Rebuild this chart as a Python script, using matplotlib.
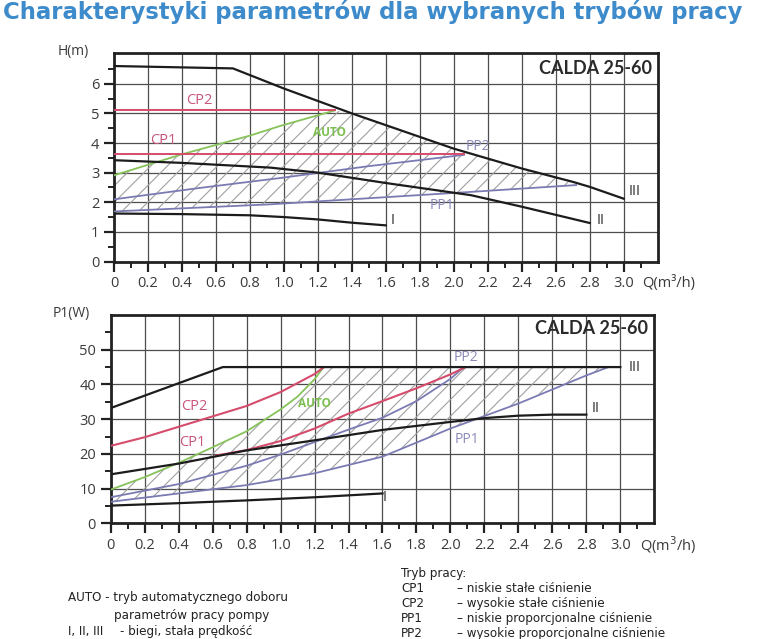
import matplotlib
matplotlib.use('Agg')
import matplotlib.pyplot as plt
from matplotlib.ticker import FixedLocator
from matplotlib.patches import Polygon

plt.rcParams['hatch.linewidth'] = 0.8
plt.rcParams['hatch.color'] = '#a0a0a0'

# ---------------- data ----------------
title = "Charakterystyki parametrów dla wybranych trybów pracy"
model = "CALDA 25-60"

x_ticks = [0, 0.2, 0.4, 0.6, 0.8, 1.0, 1.2, 1.4, 1.6, 1.8, 2.0, 2.2, 2.4, 2.6, 2.8, 3.0]
x_tick_labels = ['0', '0.2', '0.4', '0.6', '0.8', '1.0', '1.2', '1.4', '1.6', '1.8',
                 '2.0', '2.2', '2.4', '2.6', '2.8', '3.0']
x_minor = [0.1, 0.3, 0.5, 0.7, 0.9, 1.1, 1.3, 1.5, 1.7, 1.9, 2.1, 2.3, 2.5, 2.7, 2.9, 3.1]

h_ticks = [0, 1, 2, 3, 4, 5, 6]
h_minor = [0.5, 1.5, 2.5, 3.5, 4.5, 5.5, 6.5]
p_ticks = [0, 10, 20, 30, 40, 50]
p_minor = [5, 15, 25, 35, 45, 55]

# H(Q) curves
q_h3 = [0, 0.7, 1.0, 1.4, 2.0, 2.4, 2.7, 2.8, 3.0]
h_h3 = [6.6, 6.52, 5.84, 5.0, 3.81, 3.14, 2.69, 2.52, 2.12]
q_h2 = [0, 0.4, 0.92, 1.2, 1.6, 2.1, 2.4, 2.8]
h_h2 = [3.42, 3.33, 3.17, 3.0, 2.65, 2.24, 1.85, 1.3]
q_h1 = [0, 0.4, 0.8, 1.0, 1.2, 1.4, 1.6]
h_h1 = [1.62, 1.6, 1.56, 1.5, 1.42, 1.31, 1.22]
q_hpp1 = [0, 0.92, 2.1, 2.72]
h_hpp1 = [1.69, 1.93, 2.35, 2.58]
q_hpp2 = [0, 0.5, 0.98, 1.5, 2.06]
h_hpp2 = [2.1, 2.48, 2.82, 3.22, 3.6]
q_hcp1 = [0, 2.06]
h_hcp1 = [3.62, 3.62]
q_hcp2 = [0, 1.3]
h_hcp2 = [5.1, 5.1]
q_hauto = [0, 0.4, 0.8, 0.98, 1.3]
h_hauto = [2.91, 3.62, 4.25, 4.58, 5.1]

# P1(Q) curves
q_p3 = [0, 0.66, 3.0]
p_p3 = [33.2, 45.0, 45.0]
q_p2 = [0, 0.4, 0.8, 1.2, 1.6, 2.0, 2.2, 2.4, 2.6, 2.8]
p_p2 = [14.1, 17.2, 21.0, 23.9, 26.9, 29.2, 30.3, 31.0, 31.3, 31.3]
q_p1 = [0, 0.4, 0.8, 1.2, 1.6]
p_p1 = [5.1, 5.8, 6.6, 7.5, 8.6]
q_pcp2 = [0, 0.2, 0.4, 0.6, 0.8, 1.0, 1.2, 1.25]
p_pcp2 = [22.3, 24.8, 27.8, 30.8, 33.8, 37.8, 43.0, 44.8]
q_pcp1 = [0.62, 0.8, 1.0, 1.2, 1.4, 1.6, 1.8, 2.0, 2.08]
p_pcp1 = [19.5, 21.1, 23.7, 27.3, 31.6, 35.2, 38.9, 42.9, 44.8]
q_pauto = [0, 0.2, 0.4, 0.6, 0.8, 1.0, 1.1, 1.2, 1.25]
p_pauto = [9.7, 13.3, 17.4, 21.9, 26.5, 32.8, 36.5, 41.5, 44.8]
q_ppp2 = [0, 0.4, 0.8, 1.0, 1.2, 1.4, 1.6, 1.8, 2.0, 2.07]
p_ppp2 = [7.5, 11.3, 16.6, 19.8, 23.4, 27.0, 30.4, 35.2, 41.6, 44.6]
q_ppp1 = [0, 0.4, 0.8, 1.2, 1.6, 2.0, 2.4, 2.8, 2.93]
p_ppp1 = [6.2, 8.6, 11.0, 14.4, 19.2, 27.3, 34.5, 42.6, 45.0]

# ---------------- style ----------------
BLACK = '#1c1c1c'
RED = '#d64c6c'
GREEN = '#86c25a'
BLUE = '#7b7bb4'
CPTXT = '#c8557a'
PPTXT = '#8a8ab9'
AUTOTXT = '#7cbf50'
TICKTXT = '#3a3a3a'
TFONT = ['Open Sans', 'DejaVu Sans']

fig = plt.figure(figsize=(7.78, 6.39), dpi=100)
W, H = 778, 639


def fx(px):
    return px / W


def fy(py):
    return 1 - py / H


ax1 = fig.add_axes([fx(114), fy(261.5), fx(657.7 - 114), (261.5 - 52.7) / H])
ax2 = fig.add_axes([fx(110.7), fy(523.3), fx(654.3 - 110.7), (523.3 - 315) / H])


def style(ax, ymax, yt, ym):
    ax.set_xlim(0, 3.2)
    ax.set_ylim(0, ymax)
    ax.xaxis.set_major_locator(FixedLocator(x_ticks))
    ax.xaxis.set_minor_locator(FixedLocator(x_minor))
    ax.yaxis.set_major_locator(FixedLocator(yt))
    ax.yaxis.set_minor_locator(FixedLocator(ym))
    ax.set_xticklabels(x_tick_labels)
    ax.set_yticklabels([str(v) for v in yt])
    ax.grid(which='major', color='#4e4e4e', lw=0.9, zorder=0)
    ax.set_axisbelow(True)
    for s in ax.spines.values():
        s.set_linewidth(2.0)
        s.set_color('#222222')
    ax.tick_params(which='major', direction='out', length=7, width=1.6,
                   color='#222222', labelsize=10.5, labelcolor=TICKTXT, pad=3.5)
    ax.tick_params(which='minor', direction='out', length=4, width=1.4,
                   color='#222222')
    for lab in ax.get_xticklabels() + ax.get_yticklabels():
        lab.set_family(TFONT)


style(ax1, 7.05, h_ticks, h_minor)
style(ax2, 60, p_ticks, p_minor)

# ---------- top chart ----------
poly_q = list(q_hauto) + [q for q in q_h3 if 1.3 < q < 2.72] + list(q_hpp1[::-1])
poly_h = list(h_hauto) + [h for q, h in zip(q_h3, h_h3) if 1.3 < q < 2.72] + list(h_hpp1[::-1])
ax1.add_patch(Polygon(list(zip(poly_q, poly_h)), closed=True, facecolor='none',
                      edgecolor='#a0a0a0', lw=0, hatch='//', zorder=1))

ax1.plot(q_hpp1, h_hpp1, color=BLUE, lw=1.3, zorder=3)
ax1.plot(q_hpp2, h_hpp2, color=BLUE, lw=1.3, zorder=3)
ax1.plot(q_hauto, h_hauto, color=GREEN, lw=1.3, zorder=3)
ax1.plot(q_hcp1, h_hcp1, color=RED, lw=1.4, zorder=4)
ax1.plot(q_hcp2, h_hcp2, color=RED, lw=1.4, zorder=4)
ax1.plot(q_h1, h_h1, color=BLACK, lw=1.6, zorder=5)
ax1.plot(q_h2, h_h2, color=BLACK, lw=1.6, zorder=5)
ax1.plot(q_h3, h_h3, color=BLACK, lw=1.6, zorder=5)

ax1.text(0.5, 5.45, 'CP2', color=CPTXT, fontsize=10.5, ha='center', va='center', family=TFONT)
ax1.text(0.29, 4.07, 'CP1', color=CPTXT, fontsize=10.5, ha='center', va='center', family=TFONT)
ax1.text(1.27, 4.37, 'AUTO', color=AUTOTXT, fontsize=8.5, fontweight='bold', ha='center', va='center', family=TFONT)
ax1.text(2.14, 3.87, 'PP2', color=PPTXT, fontsize=10, ha='center', va='center', family=TFONT)
ax1.text(1.93, 1.88, 'PP1', color=PPTXT, fontsize=10, ha='center', va='center', family=TFONT)
ax1.text(1.63, 1.37, 'I', color='#333333', fontsize=10.5, ha='left', va='center', family=TFONT)
ax1.text(2.84, 1.39, 'II', color='#333333', fontsize=10.5, ha='left', va='center', family=TFONT)
ax1.text(3.03, 2.37, 'III', color='#333333', fontsize=10.5, ha='left', va='center', family=TFONT)
ax1.text(3.165, 6.53, model, color='#2a2a2a', fontsize=13, fontweight='bold', ha='right', va='center',
         family=['Lato', 'DejaVu Sans'])

# ---------- bottom chart ----------
poly_q2 = list(q_pauto) + list(q_ppp1[::-1])
poly_p2 = list(p_pauto) + list(p_ppp1[::-1])
ax2.add_patch(Polygon(list(zip(poly_q2, poly_p2)), closed=True, facecolor='none',
                      edgecolor='#a0a0a0', lw=0, hatch='//', zorder=1))

ax2.plot(q_ppp1, p_ppp1, color=BLUE, lw=1.3, zorder=3)
ax2.plot(q_ppp2, p_ppp2, color=BLUE, lw=1.3, zorder=3)
ax2.plot(q_pauto, p_pauto, color=GREEN, lw=1.3, zorder=3)
ax2.plot(q_pcp1, p_pcp1, color=RED, lw=1.5, zorder=4)
ax2.plot(q_pcp2, p_pcp2, color=RED, lw=1.5, zorder=4)
ax2.plot(q_p1, p_p1, color=BLACK, lw=1.6, zorder=5)
ax2.plot(q_p2, p_p2, color=BLACK, lw=1.6, zorder=5)
ax2.plot(q_p3, p_p3, color=BLACK, lw=1.6, zorder=5)

ax2.text(0.49, 33.5, 'CP2', color=CPTXT, fontsize=10.5, ha='center', va='center', family=TFONT)
ax2.text(0.48, 23.2, 'CP1', color=CPTXT, fontsize=10.5, ha='center', va='center', family=TFONT)
ax2.text(1.2, 34.5, 'AUTO', color=AUTOTXT, fontsize=8.5, fontweight='bold', ha='center', va='center', family=TFONT)
ax2.text(2.09, 47.7, 'PP2', color=PPTXT, fontsize=10, ha='center', va='center', family=TFONT)
ax2.text(2.1, 24.1, 'PP1', color=PPTXT, fontsize=10, ha='center', va='center', family=TFONT)
ax2.text(1.6, 7.3, 'I', color='#333333', fontsize=10.5, ha='left', va='center', family=TFONT)
ax2.text(2.83, 33.0, 'II', color='#333333', fontsize=10.5, ha='left', va='center', family=TFONT)
ax2.text(3.05, 45.0, 'III', color='#333333', fontsize=10.5, ha='left', va='center', family=TFONT)
ax2.text(3.165, 56.0, model, color='#2a2a2a', fontsize=13, fontweight='bold', ha='right', va='center',
         family=['Lato', 'DejaVu Sans'])

# ---------- figure texts ----------
fig.text(fx(3), fy(19.5), title, color='#3d8bcb', fontsize=16.4, fontweight='bold',
         ha='left', va='baseline', family=['DejaVu Sans'])

fig.text(fx(58), fy(52), 'H(m)', fontsize=10, color=TICKTXT, ha='left', va='center', family=TFONT)
fig.text(fx(53), fy(314), 'P1(W)', fontsize=10, color=TICKTXT, ha='left', va='center', family=TFONT)
fig.text(fx(642), fy(283), 'Q(m³/h)', fontsize=10.5, color=TICKTXT, ha='left', va='center', family=TFONT)
fig.text(fx(640), fy(545), 'Q(m$^3$/h)', fontsize=10.5, color=TICKTXT, ha='left', va='center', family=TFONT)

LFONT = ['DejaVu Sans']
LS = 9.5
LST = 'condensed'
LC = '#222222'
fig.text(fx(401), fy(574), 'Tryb pracy:', fontsize=LS, color=LC, va='center', family=LFONT, fontstretch=LST)
modes = ['CP1', 'CP2', 'PP1', 'PP2']
mode_desc = ['– niskie stałe ciśnienie', '– wysokie stałe ciśnienie',
             '– niskie proporcjonalne ciśnienie', '– wysokie proporcjonalne ciśnienie']
for i, (m, d) in enumerate(zip(modes, mode_desc)):
    y = 588.5 + 15 * i
    fig.text(fx(401), fy(y), m, fontsize=LS, color=LC, va='center', family=LFONT, fontstretch=LST)
    fig.text(fx(457), fy(y), d, fontsize=LS, color=LC, va='center', family=LFONT, fontstretch=LST)
fig.text(fx(68), fy(598), 'AUTO - tryb automatycznego doboru', fontsize=LS, color=LC, va='center',
         family=LFONT, fontstretch=LST)
fig.text(fx(114), fy(615), 'parametrów pracy pompy', fontsize=LS, color=LC, va='center',
         family=LFONT, fontstretch=LST)
fig.text(fx(68), fy(631), 'I, II, III', fontsize=LS, color=LC, va='center', family=LFONT, fontstretch=LST)
fig.text(fx(120), fy(631), '- biegi, stała prędkość', fontsize=LS, color=LC, va='center',
         family=LFONT, fontstretch=LST)

fig.savefig('out.png', dpi=100)
